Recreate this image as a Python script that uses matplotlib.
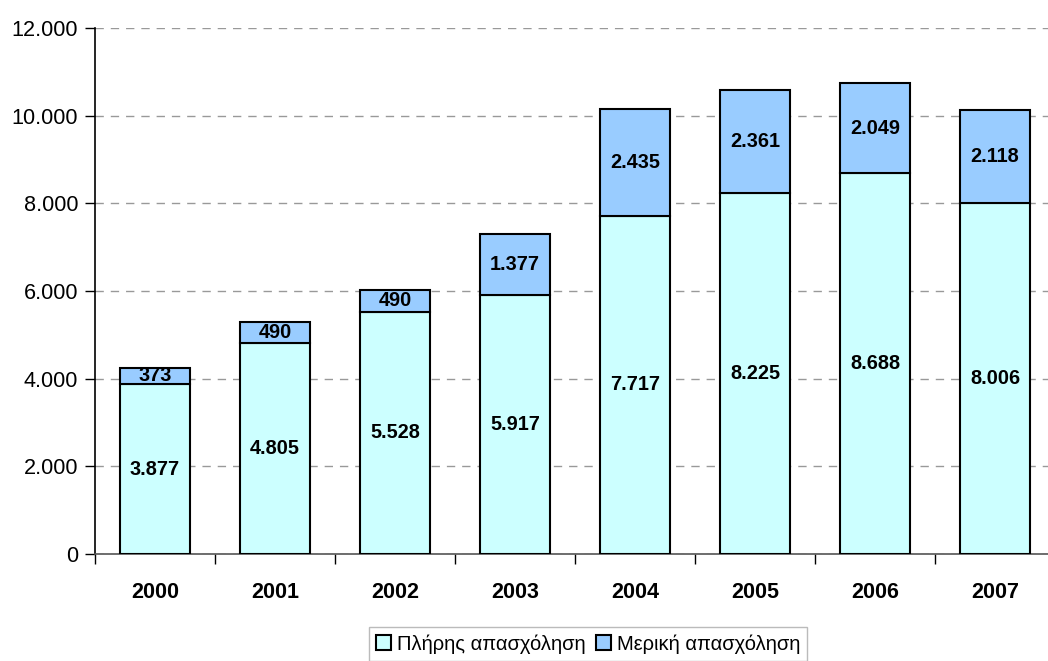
import matplotlib
matplotlib.use("Agg")
import matplotlib.pyplot as plt
from matplotlib.ticker import FuncFormatter, FixedLocator
import numpy as np

years = ["2000", "2001", "2002", "2003", "2004", "2005", "2006", "2007"]
full_time = [3877, 4805, 5528, 5917, 7717, 8225, 8688, 8006]
part_time = [373, 490, 490, 1377, 2435, 2361, 2049, 2118]
series_names = ["Πλήρης απασχόληση", "Μερική απασχόληση"]

plt.rcParams['font.family'] = ['Liberation Sans', 'DejaVu Sans']

W, H = 1048, 661
fig = plt.figure(figsize=(W / 100, H / 100), dpi=100)
ax = fig.add_axes([95 / W, (H - 554) / H, 960 / W, (554 - 28) / H])

def fmt(v):
    return f"{int(round(v)):,}".replace(",", ".")

x = np.arange(len(years))
bw = 0.58
c_full = "#CCFFFF"
c_part = "#99CCFF"
b1 = ax.bar(x, full_time, bw, color=c_full, edgecolor="black", linewidth=1.5,
            label=series_names[0], zorder=3)
b2 = ax.bar(x, part_time, bw, bottom=full_time, color=c_part, edgecolor="black",
            linewidth=1.5, label=series_names[1], zorder=3)

for xi, f, p in zip(x, full_time, part_time):
    ax.text(xi, f / 2, fmt(f), ha="center", va="center", fontsize=14.3,
            fontweight="bold", zorder=4)
    ax.text(xi, f + p / 2, fmt(p), ha="center", va="center", fontsize=14.3,
            fontweight="bold", zorder=4)

ax.set_xlim(-0.5, len(years) - 0.5)
ax.set_ylim(0, 12000)
ax.set_yticks(np.arange(0, 12001, 2000))
ax.yaxis.set_major_formatter(FuncFormatter(lambda v, p: fmt(v)))
ax.set_xticks(x)
ax.set_xticklabels(years, fontweight="bold", fontsize=15.5)
ax.xaxis.set_minor_locator(FixedLocator(np.arange(-0.5, len(years), 1.0)))
ax.tick_params(axis="x", which="major", length=0, pad=20)
ax.tick_params(axis="x", which="minor", length=7, width=1, color="black")
ax.tick_params(axis="y", length=7, width=1, labelsize=15.6, pad=5)

ax.grid(axis="y", linestyle=(0, (6, 5)), color="#999999", linewidth=1, zorder=0)
for s in ["top", "right"]:
    ax.spines[s].set_visible(False)
ax.spines["left"].set_linewidth(1.2)
ax.spines["bottom"].set_linewidth(1.2)
ax.spines["bottom"].set_color("#555555")

leg = fig.legend(handles=[b1, b2], loc="upper center",
                 bbox_to_anchor=(588 / W, 1 - 627 / H), ncol=2, fontsize=14.5,
                 frameon=True, fancybox=False, handlelength=0.75, handleheight=0.75,
                 handletextpad=0.3, columnspacing=0.5, borderpad=0.35,
                 borderaxespad=0)
leg.get_frame().set_edgecolor("#aaaaaa")
leg.get_frame().set_linewidth(1)

fig.savefig("out.png", dpi=100)
